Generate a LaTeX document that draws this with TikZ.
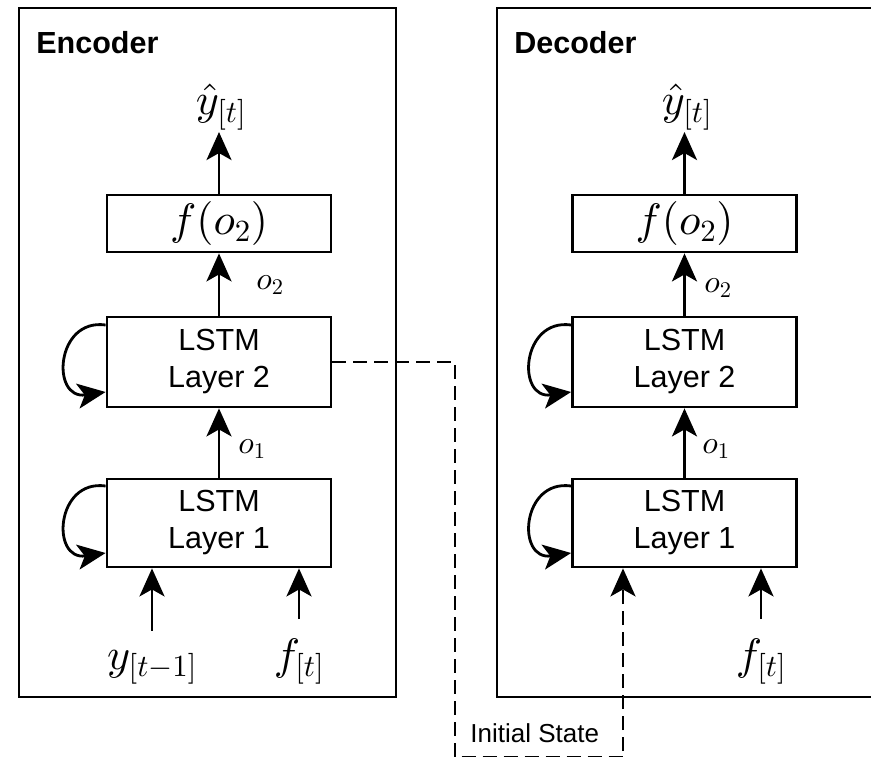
\documentclass[tikz,border=0pt]{standalone}
\usepackage{fontspec}
\newfontfamily\arialfont{Liberation Sans}
\usetikzlibrary{arrows.meta,calc}

% scalable Computer Modern math fonts for the large formulas
\DeclareFontShape{OML}{cmm}{m}{it}{<->cmmi10}{}
\DeclareFontShape{OMS}{cmsy}{m}{n}{<->cmsy10}{}
\DeclareFontShape{OT1}{cmr}{m}{n}{<->cmr10}{}
\DeclareFontShape{OMX}{cmex}{m}{n}{<->cmex10}{}

\tikzset{
  >={Stealth[length=28pt,width=25pt,inset=7pt]},
  frame/.style={draw, rectangle, inner sep=0pt},
  layerbox/.style={draw, rectangle, minimum width=224pt, align=center,
    inner sep=0pt, font=\arialfont\fontsize{30.5}{37}\selectfont},
  funcbox/.style={draw, rectangle, minimum width=224pt, minimum height=57pt,
    inner sep=0pt, font=\fontsize{44}{50}\selectfont},
  bigmath/.style={inner sep=0pt, font=\fontsize{44}{50}\selectfont},
  smallmath/.style={inner sep=0pt, font=\fontsize{32}{38}\selectfont},
  title/.style={inner sep=0pt, anchor=base west,
    font=\arialfont\bfseries\fontsize{30.5}{36}\selectfont},
  note/.style={inner sep=0pt, anchor=base west,
    font=\arialfont\fontsize{26}{30}\selectfont},
  flow/.style={->},
  initline/.style={->, dash pattern=on 14pt off 7pt},
  selfloop/.style={->},
}

\begin{document}
\begin{tikzpicture}[x=1pt, y=-1pt, line width=2.8pt]
\useasboundingbox (0,0) rectangle (871,757);

% outer frames
\node[frame, minimum width=377pt, minimum height=689pt] (enc) at (207.5,352.5) {};
\node[frame, minimum width=381pt, minimum height=689pt] (dec) at (687.5,352.5) {};
\node[title] (encT) at (35,54) {Encoder};
\node[title] (decT) at (513,54) {Decoder};

% encoder stack
\node[funcbox] (eF) at (219,223.5) {$f(o_2)$};
\node[layerbox, minimum height=90pt] (eL2) at (219,362) {LSTM\\Layer 2};
\node[layerbox, minimum height=88pt] (eL1) at (219,523) {LSTM\\Layer 1};
\node[bigmath, anchor=base] (eY) at (221,115) {$\hat{y}_{[t]}$};
\node[smallmath] (eo2) at (270,285) {$o_2$};
\node[smallmath] (eo1) at (252,449) {$o_1$};
\node[bigmath, anchor=base] (ey) at (152,669) {$y_{[t-1]}$};
\node[bigmath, anchor=base] (ef) at (299,669) {$f_{[t]}$};

% decoder stack
\node[funcbox] (dF) at (684.5,223.5) {$f(o_2)$};
\node[layerbox, minimum height=90pt] (dL2) at (684.5,362) {LSTM\\Layer 2};
\node[layerbox, minimum height=88pt] (dL1) at (684.5,523) {LSTM\\Layer 1};
\node[bigmath, anchor=base] (dY) at (687,115) {$\hat{y}_{[t]}$};
\node[smallmath] (do2) at (718,288) {$o_2$};
\node[smallmath] (do1) at (716,449) {$o_1$};
\node[bigmath, anchor=base] (df) at (761,669) {$f_{[t]}$};

% vertical flow, encoder
\draw[flow] (eF.north) -- (eF.north |- eY.south);
\draw[flow] (eL2.north) -- (eF.south);
\draw[flow] (eL1.north) -- (eL2.south);
\draw[flow, shorten <=18pt] (ey.north) -- (ey.north |- eL1.south);
\draw[flow, shorten <=18pt] (ef.north) -- (ef.north |- eL1.south);

% vertical flow, decoder
\draw[flow] (dF.north) -- (dF.north |- dY.south);
\draw[flow] (dL2.north) -- (dF.south);
\draw[flow] (dL1.north) -- (dL2.south);
\draw[flow, shorten <=18pt] (df.north) -- (df.north |- dL1.south);

% recurrent self-loops
\foreach \b in {eL2,eL1,dL2,dL1}{
  \draw[selfloop] ([yshift=37pt]\b.west) .. controls +(-50,-7) and +(-55,8) .. ([yshift=-30pt]\b.west);
}

% hidden state handed from encoder to decoder
\coordinate (turnA) at (455,362);
\coordinate (turnB) at (455,757.8);
\coordinate (turnC) at (623,757.8);
\draw[initline] (eL2.east) -- (turnA) -- (turnB) -- (turnC) -- (turnC |- dL1.south);
\node[note] (initT) at (469,742) {Initial State};
\end{tikzpicture}
\end{document}
